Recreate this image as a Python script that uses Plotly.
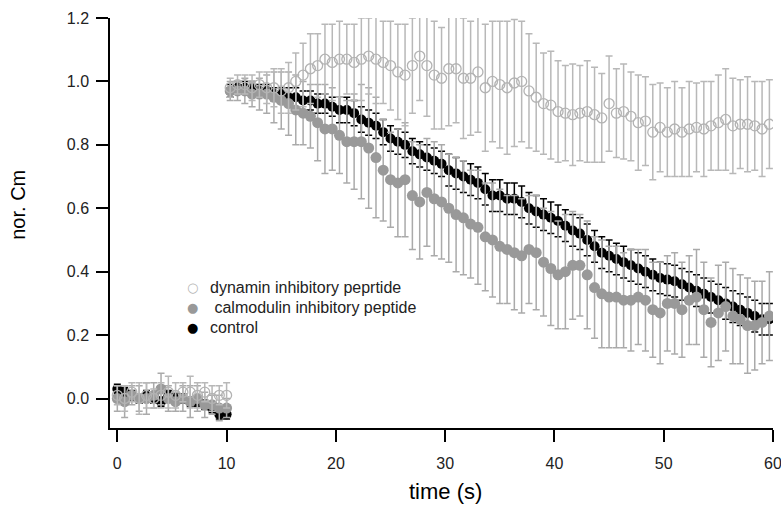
import plotly.graph_objects as go

time_s = [0, 0.67, 1.33, 2, 2.67, 3.33, 4, 4.67, 5.33, 6, 6.67, 7.33, 8, 8.67, 9.33, 10,
          10.33, 11, 11.67, 12.33, 13, 13.67, 14.33, 15, 15.67, 16.33, 17, 17.67, 18.33, 19, 19.67,
          20.33, 21, 21.67, 22.33, 23, 23.67, 24.33, 25, 25.67, 26.33, 27, 27.67, 28.33, 29, 29.67,
          30.33, 31, 31.67, 32.33, 33, 33.67, 34.33, 35, 35.67, 36.33, 37, 37.67, 38.33, 39, 39.67,
          40.33, 41, 41.67, 42.33, 43, 43.67, 44.33, 45, 45.67, 46.33, 47, 47.67, 48.33, 49, 49.67,
          50.33, 51, 51.67, 52.33, 53, 53.67, 54.33, 55, 55.67, 56.33, 57, 57.67, 58.33, 59, 59.67]

control = [0.03, 0.02, 0.01, 0.00, 0.01, 0.00, -0.01, 0.01, 0.00, 0.00, -0.01, -0.01, -0.02, -0.03, -0.05, -0.05,
           0.97, 0.98, 0.98, 0.98, 0.97, 0.97, 0.96, 0.96, 0.95, 0.95, 0.94, 0.94, 0.93, 0.93, 0.92,
           0.91, 0.91, 0.90, 0.88, 0.87, 0.86, 0.84, 0.82, 0.81, 0.80, 0.78, 0.77, 0.76, 0.75, 0.74,
           0.72, 0.71, 0.70, 0.69, 0.68, 0.66, 0.64, 0.64, 0.63, 0.63, 0.62, 0.60, 0.59, 0.58, 0.57,
           0.56, 0.545, 0.53, 0.52, 0.50, 0.48, 0.46, 0.45, 0.44, 0.43, 0.42, 0.41, 0.40, 0.39, 0.38,
           0.375, 0.37, 0.36, 0.35, 0.34, 0.33, 0.32, 0.31, 0.30, 0.29, 0.28, 0.27, 0.26, 0.25, 0.25]
control_err = [0.015] * 16 + [0.02] * 8 + [0.03] * 7 + [0.04] * 15 + [0.05] * 45

calmodulin = [0.00, -0.01, 0.01, 0.00, 0.00, 0.01, 0.03, 0.00, -0.01, 0.00, -0.01, 0.00, -0.02, -0.02, -0.03, -0.03,
              0.97, 0.97, 0.97, 0.96, 0.96, 0.96, 0.95, 0.94, 0.93, 0.91, 0.90, 0.89, 0.87, 0.85, 0.85,
              0.83, 0.81, 0.81, 0.81, 0.79, 0.76, 0.72, 0.69, 0.68, 0.69, 0.64, 0.62, 0.65, 0.63, 0.62,
              0.60, 0.58, 0.57, 0.55, 0.54, 0.51, 0.50, 0.48, 0.47, 0.46, 0.45, 0.47, 0.46, 0.43, 0.41,
              0.39, 0.40, 0.42, 0.42, 0.39, 0.35, 0.33, 0.32, 0.32, 0.31, 0.31, 0.32, 0.31, 0.28, 0.27,
              0.30, 0.30, 0.28, 0.31, 0.32, 0.28, 0.24, 0.27, 0.29, 0.26, 0.25, 0.23, 0.23, 0.24, 0.26]
calmodulin_err = [0.04, 0.05, 0.03, 0.04, 0.05, 0.04, 0.05, 0.04, 0.03, 0.04, 0.05, 0.04, 0.04, 0.03, 0.04, 0.03,
                  0.03, 0.03, 0.04, 0.04, 0.05, 0.06, 0.08, 0.09, 0.10, 0.11, 0.10, 0.10, 0.12, 0.14, 0.13,
                  0.12, 0.13, 0.15, 0.18, 0.19, 0.19, 0.16, 0.15, 0.17, 0.18, 0.17, 0.18, 0.17, 0.18, 0.18,
                  0.17, 0.18, 0.18, 0.17, 0.18, 0.17, 0.18, 0.18, 0.17, 0.18, 0.18, 0.17, 0.18, 0.17, 0.18,
                  0.17, 0.18, 0.17, 0.16, 0.17, 0.16, 0.17, 0.16, 0.16, 0.15, 0.16, 0.15, 0.16, 0.15, 0.16,
                  0.15, 0.16, 0.15, 0.14, 0.15, 0.15, 0.14, 0.15, 0.14, 0.15, 0.14, 0.15, 0.14, 0.13, 0.14]

dynamin = [0.01, 0.00, 0.02, 0.00, 0.01, 0.00, 0.01, 0.02, 0.01, 0.02, 0.02, 0.01, 0.02, 0.00, 0.01, 0.01,
           0.98, 0.99, 0.99, 0.98, 0.99, 0.98, 0.98, 0.97, 0.98, 1.00, 1.02, 1.04, 1.05, 1.07, 1.06,
           1.07, 1.07, 1.06, 1.07, 1.08, 1.07, 1.06, 1.05, 1.03, 1.02, 1.05, 1.08, 1.05, 1.02, 1.01,
           1.04, 1.04, 1.01, 1.01, 1.03, 0.98, 1.00, 0.99, 0.98, 0.995, 1.00, 0.97, 0.95, 0.93, 0.925,
           0.905, 0.90, 0.895, 0.90, 0.905, 0.895, 0.885, 0.93, 0.90, 0.905, 0.89, 0.87, 0.875, 0.84, 0.855,
           0.84, 0.85, 0.84, 0.85, 0.855, 0.85, 0.86, 0.87, 0.88, 0.86, 0.865, 0.865, 0.86, 0.85, 0.865]
dynamin_err = [0.03, 0.04, 0.03, 0.05, 0.04, 0.03, 0.04, 0.05, 0.04, 0.03, 0.05, 0.04, 0.03, 0.04, 0.03, 0.04,
               0.03, 0.03, 0.03, 0.04, 0.04, 0.05, 0.06, 0.07, 0.08, 0.09, 0.10, 0.11, 0.10, 0.11, 0.12,
               0.12, 0.11, 0.12, 0.13, 0.12, 0.14, 0.13, 0.14, 0.15, 0.16, 0.15, 0.14, 0.16, 0.17, 0.16,
               0.18, 0.17, 0.19, 0.18, 0.19, 0.20, 0.19, 0.20, 0.21, 0.20, 0.19, 0.18, 0.17, 0.16, 0.17,
               0.16, 0.15, 0.16, 0.15, 0.16, 0.15, 0.14, 0.15, 0.14, 0.15, 0.14, 0.15, 0.14, 0.15, 0.14,
               0.14, 0.15, 0.14, 0.15, 0.14, 0.15, 0.14, 0.15, 0.16, 0.15, 0.14, 0.15, 0.14, 0.15, 0.14]

x_ticks = [0, 10, 20, 30, 40, 50, 60]
y_ticks = [0.0, 0.2, 0.4, 0.6, 0.8, 1.0, 1.2]

legend_names = ["dynamin inhibitory peprtide", "\u00a0calmodulin inhibitory peptide", "control"]
legend_symbols = ["\u25cb", "\u25cf", "\u25cf"]
legend_colors = ["#b3b3b3", "#999999", "#000000"]

FONT = "Liberation Sans, Arial, sans-serif"

# plot area in pixels (figure is placed at the page's top-left corner)
L, R, T, B = 110, 8, 18, 78.5
W, H = 781, 507
PW, PH = W - L - R, H - T - B


def px_x(p):
    return (p - L) / PW


def px_y(p):
    return (H - B - p) / PH


fig = go.Figure()
fig.add_trace(go.Scatter(
    x=time_s, y=control, mode="markers", name=legend_names[2], showlegend=False,
    marker=dict(symbol="circle", size=10, color="black"),
    error_y=dict(type="data", array=control_err, color="black", thickness=1.5, width=3.5),
))
fig.add_trace(go.Scatter(
    x=time_s, y=calmodulin, mode="markers", name=legend_names[1], showlegend=False,
    marker=dict(symbol="circle", size=11, color="#999999"),
    error_y=dict(type="data", array=calmodulin_err, color="#aaaaaa", thickness=1.5, width=3.5),
))
fig.add_trace(go.Scatter(
    x=time_s, y=dynamin, mode="markers", name=legend_names[0], showlegend=False,
    marker=dict(symbol="circle-open", size=10, color="#b3b3b3", line=dict(width=1.3)),
    error_y=dict(type="data", array=dynamin_err, color="#b8b8b8", thickness=1.5, width=3.5),
))

axis_common = dict(showline=True, linecolor="black", linewidth=1.5, ticks="outside",
                   ticklen=12, tickwidth=1.5, tickcolor="black", showgrid=False, zeroline=False,
                   ticklabeloverflow="allow", automargin=False,
                   tickfont=dict(family=FONT, size=16, color="#222222"))

annotations = [
    dict(text="time (s)", xref="x", yref="paper", x=30, y=px_y(492),
         xanchor="center", yanchor="middle", showarrow=False,
         font=dict(family=FONT, size=22, color="black")),
    dict(text="nor. Cm", xref="paper", yref="paper", x=px_x(18), y=px_y(205),
         xanchor="center", yanchor="middle", showarrow=False, textangle=-90,
         font=dict(family=FONT, size=20, color="black")),
]
for i, (name, sym, col) in enumerate(zip(legend_names, legend_symbols, legend_colors)):
    yy = px_y(288 + 20 * i)
    annotations.append(dict(text=sym, xref="paper", yref="paper", x=px_x(192), y=yy,
                            xanchor="center", yanchor="middle", showarrow=False,
                            font=dict(family="DejaVu Sans, sans-serif", size=13, color=col)))
    annotations.append(dict(text=name, xref="paper", yref="paper", x=px_x(208), y=yy,
                            xanchor="left", yanchor="middle", showarrow=False,
                            font=dict(family=FONT, size=16, color="#222222")))

fig.update_layout(
    width=W, height=H,
    margin=dict(l=L, r=R, t=T, b=B, autoexpand=False),
    paper_bgcolor="white", plot_bgcolor="white",
    font=dict(family=FONT, color="black"),
    showlegend=False,
    xaxis=dict(range=[-0.67, 60], tickvals=x_ticks, ticklabelstandoff=8, **axis_common),
    yaxis=dict(range=[-0.093, 1.2], tickvals=y_ticks, tickformat=".1f", ticklabelstandoff=4, **axis_common),
    annotations=annotations,
)

fig.write_html("out.html", config={"displayModeBar": False},
               post_script="document.body.style.margin='0px';document.body.style.overflow='hidden';")
